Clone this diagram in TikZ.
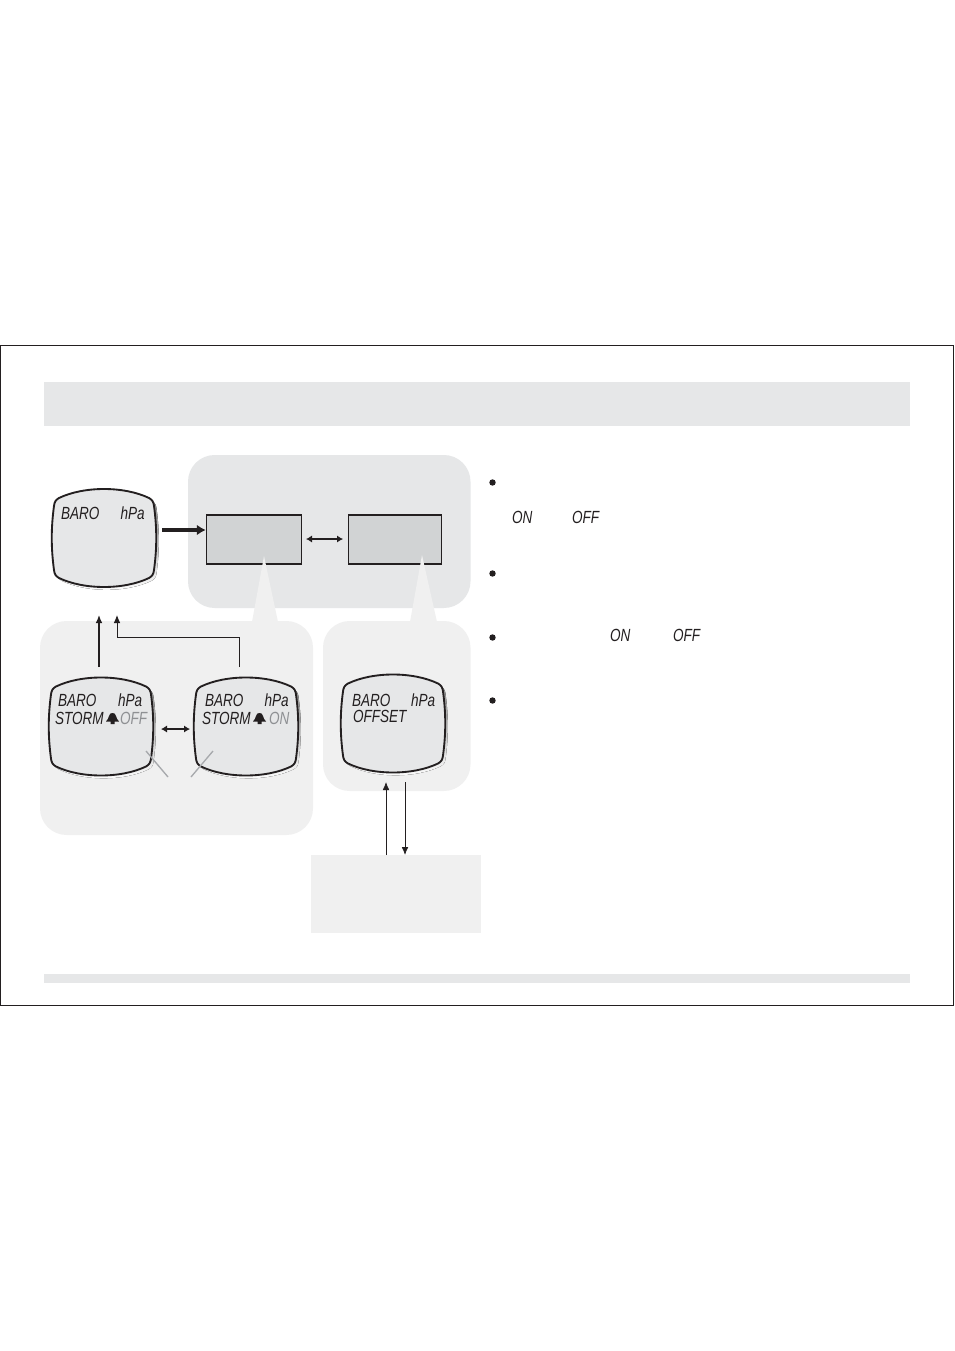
\documentclass[tikz,border=0pt]{standalone}
\usepackage{fontspec}
\usetikzlibrary{arrows.meta}
\setmainfont{Liberation Sans}
\newfontfamily\lcdf[FakeStretch=0.77]{Liberation Sans Italic}
\definecolor{panelA}{HTML}{E6E7E8}
\definecolor{panelB}{HTML}{F0F0F0}
\definecolor{boxfill}{HTML}{D1D3D4}
\definecolor{shade}{HTML}{A7A9AC}
\definecolor{ink}{HTML}{231F20}
\definecolor{dimink}{HTML}{8E9093}
\tikzset{
  panel/.style={rounded corners=20pt,draw=none},
  lcdlabel/.style={anchor=base west,inner sep=0pt,outer sep=0pt,text=ink,font=\lcdf\fontsize{13.2pt}{14pt}\selectfont},
  dimlabel/.style={lcdlabel,text=dimink},
  greybox/.style={draw=ink,line width=1.05pt,fill=boxfill,inner sep=0pt},
  thin arrow/.style={draw=ink,line width=.6pt,-{Latex[length=6pt,width=5pt]}},
  mid arrow/.style={draw=ink,line width=1pt,-{Latex[length=6pt,width=5pt]}},
  thick arrow/.style={draw=ink,line width=2.7pt,-{Latex[length=6.5pt,width=8pt]}},
  both arrow/.style={draw=ink,line width=1.9pt,{Latex[length=4.5pt,width=5.5pt]}-{Latex[length=4.5pt,width=5.5pt]}},
  cross/.style={draw=shade,line width=1pt},
  bulletdot/.style={circle,fill=ink,inner sep=0pt,minimum size=4.8pt},
  lcdanchor/.style={minimum width=79pt,minimum height=75pt,inner sep=0pt,draw=none}
}
\newcommand{\lcdoutline}{%
  (-45,-40) .. controls (-20,-52) and (20,-52) .. (45,-40)
  .. controls (48.5,-38) and (49.5,-36) .. (50,-32)
  .. controls (53,-10) and (53,10) .. (50,32)
  .. controls (49.5,36) and (48.5,38) .. (45,40)
  .. controls (20,52) and (-20,52) .. (-45,40)
  .. controls (-48.5,38) and (-49.5,36) .. (-50,32)
  .. controls (-53,10) and (-53,-10) .. (-50,-32)
  .. controls (-49.5,-36) and (-48.5,-38) .. (-45,-40) -- cycle}
\newcommand{\lcdscreen}[3]{%
  \node[lcdanchor] (#1) at (#2,#3) {};
  \fill[shade,shift={(#2+2.6,#3+2.8)}] \lcdoutline;
  \draw[draw=ink,line width=1.4pt,fill=panelA,shift={(#2,#3)}] \lcdoutline;
}
\newcommand{\bellmark}[2]{%
  \fill[ink,shift={(#1,#2)}] (-6.5,3.5) .. controls (-5,2) and (-4,0) .. (-3.5,-2)
  .. controls (-3,-4.5) and (-1.5,-5) .. (0,-5)
  .. controls (1.5,-5) and (3,-4.5) .. (3.5,-2)
  .. controls (4,0) and (5,2) .. (6.5,3.5) -- (2,3.5) -- (2,6) -- (-2,6) -- (-2,3.5) -- cycle;
}
\begin{document}
\begin{tikzpicture}[x=.75pt,y=-.75pt]
\useasboundingbox (0,0) rectangle (954,1351);
\fill[white] (0,0) rectangle (954,1351);
\draw[ink,line width=.75pt] (.5,346) rectangle (953.5,1005);
\fill[panelA] (44,382) rectangle (910,426);
\fill[panelA] (44,974) rectangle (910,983);
% panels
\fill[panelA,panel] (188,455) rectangle (470.5,608);
\fill[panelB,panel] (40,621) rectangle (313,835);
\fill[panelB,panel] (323,621) rectangle (470.5,791);
\node[fill=panelB,inner sep=0pt,minimum width=127.5pt,minimum height=58.5pt] (note) at (396,894) {};
% grey boxes
\node[greybox,minimum width=71.5pt,minimum height=36.5pt] (boxA) at (254,539.5) {};
\node[greybox,minimum width=70pt,minimum height=36.5pt] (boxB) at (395,539.5) {};
% wedges
\fill[panelB] (264,556) -- (278,622) -- (252,622) -- cycle;
\fill[panelB] (422,555) -- (437,622) -- (410,622) -- cycle;
% screens
\lcdscreen{scrBaro}{104}{538}
\lcdscreen{scrOff}{101}{726.5}
\lcdscreen{scrOn}{246}{726.5}
\lcdscreen{scrSet}{393}{723.5}
% screen text
\node[lcdlabel] (t1) at (61,519) {BARO};
\node[lcdlabel] (t2) at (120.5,519) {hPa};
\node[lcdlabel] (t3) at (58,706.5) {BARO};
\node[lcdlabel] (t4) at (118,706.5) {hPa};
\node[lcdlabel] (t5) at (55,724) {STORM};
\node[dimlabel] (t6) at (120,724) {OFF};
\node[lcdlabel] (t7) at (205,706.5) {BARO};
\node[lcdlabel] (t8) at (264.5,706.5) {hPa};
\node[lcdlabel] (t9) at (202,724) {STORM};
\node[dimlabel] (t10) at (269,724) {ON};
\node[lcdlabel] (t11) at (352,706.5) {BARO};
\node[lcdlabel] (t12) at (411,706.5) {hPa};
\node[lcdlabel] (t13) at (353,722) {OFFSET};
\bellmark{112.5}{718}
\bellmark{259.5}{718}
% connector ends
\coordinate (aStart) at (162,530);
\coordinate (aEnd) at (boxA.west |- aStart);
\coordinate (offUp) at (99,667);
\coordinate (offTip) at (99,615);
\coordinate (onUp) at (239,667);
\coordinate (onTip) at (117,615);
\coordinate (xL1) at (146,751);
\coordinate (xL2) at (168,777);
\coordinate (xR1) at (213,751);
\coordinate (xR2) at (191,777);
\coordinate (noteIn) at (386,855);
\coordinate (scrIn) at (386,782);
\coordinate (scrOut) at (405,782);
\coordinate (noteOut) at (405,855);
\coordinate (dL) at (161,729);
\coordinate (dR) at (190,729);
\coordinate (eL) at (306,539);
\coordinate (eR) at (343,539);
% connectors
\draw[thick arrow] (aStart) -- (aEnd);
\draw[both arrow] (eL) -- (eR);
\draw[both arrow] (dL) -- (dR);
\draw[mid arrow] (offUp) -- (offTip);
\draw[thin arrow,line width=.75pt] (onUp) -- (239,637) -- (117,637) -- (onTip);
\draw[thin arrow] (noteIn) -- (scrIn);
\draw[thin arrow] (scrOut) -- (noteOut);
\draw[cross] (xL1) -- (xL2);
\draw[cross] (xR1) -- (xR2);
% bullets
\node[bulletdot] (b1) at (492.5,482.5) {};
\node[bulletdot] (b2) at (492.5,573.5) {};
\node[bulletdot] (b3) at (492.5,637.5) {};
\node[bulletdot] (b4) at (492.5,700.5) {};
\node[lcdlabel] (w1) at (512,523) {ON};
\node[lcdlabel] (w2) at (572,523) {OFF};
\node[lcdlabel] (w3) at (610,641) {ON};
\node[lcdlabel] (w4) at (673,641) {OFF};
\end{tikzpicture}
\end{document}
